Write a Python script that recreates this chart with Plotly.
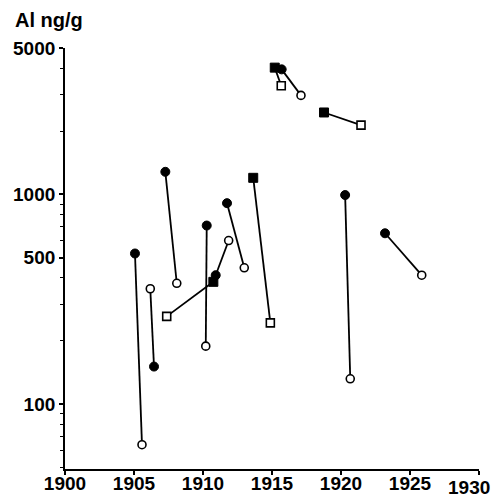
import plotly.graph_objects as go
import math

# Each pair: filled (start) marker -> open (end) marker
filled_x = [1905.07, 1906.45, 1907.27, 1910.75, 1910.27, 1910.92, 1911.74, 1913.64, 1915.2, 1915.7, 1918.77, 1920.3, 1923.19]
filled_y = [523, 151, 1283, 383, 711, 412, 909, 1201, 4030, 3954, 2462, 994, 653]
filled_sym = ["circle", "circle", "circle", "square", "circle", "circle", "circle", "square", "square", "circle", "square", "circle", "circle"]
open_x = [1905.58, 1906.18, 1908.1, 1907.37, 1910.2, 1911.86, 1912.99, 1914.88, 1915.67, 1917.1, 1921.45, 1920.67, 1925.85]
open_y = [64, 355, 377, 262, 189, 603, 447, 244, 3304, 2971, 2142, 132, 412]
open_sym = ["circle", "circle", "circle", "square", "circle", "circle", "circle", "square", "square", "circle", "square", "circle", "circle"]

x_ticks = [1900, 1905, 1910, 1915, 1920, 1925, 1930]
y_ticks = [100, 500, 1000, 5000]
y_ticktext = ["100", "500", "1000", "5000"]
y_minor = [50, 60, 70, 80, 90, 200, 300, 400, 600, 700, 800, 900, 2000, 3000, 4000]

FONT = "Liberation Sans"
FS = 19

fig = go.Figure()

# connecting lines
lx, ly = [], []
for a, b, c, d in zip(filled_x, filled_y, open_x, open_y):
    lx += [a, c, None]
    ly += [b, d, None]
fig.add_trace(go.Scatter(x=lx, y=ly, mode="lines", line=dict(color="black", width=1.8),
                         hoverinfo="skip", showlegend=False))

# open markers
fig.add_trace(go.Scatter(x=open_x, y=open_y, mode="markers",
                         marker=dict(symbol=open_sym, size=8, color="white",
                                     line=dict(color="black", width=1.6)),
                         showlegend=False))
# filled markers
fig.add_trace(go.Scatter(x=filled_x, y=filled_y, mode="markers",
                         marker=dict(symbol=filled_sym, size=9, color="black",
                                     line=dict(color="black", width=1)),
                         showlegend=False))

# last x tick label is drawn slightly left of its tick so it stays on the page
x_ticktext = ["<b>%d</b>" % v for v in x_ticks[:-1]] + [""]

fig.update_layout(
    width=495, height=491,
    margin=dict(l=57, r=24, t=40, b=30),
    paper_bgcolor="white", plot_bgcolor="white",
    font=dict(family=FONT, size=FS, color="black"),
    xaxis=dict(range=[1900, 1930], tickvals=x_ticks, ticktext=x_ticktext,
               showgrid=False, zeroline=False, automargin=False,
               showline=True, linecolor="black", linewidth=1.8,
               ticks="outside", ticklen=4, tickwidth=1.5, tickcolor="black",
               ticklabelstandoff=-8,
               tickfont=dict(family=FONT, size=FS)),
    yaxis=dict(type="log", range=[math.log10(49), math.log10(5000)],
               tickvals=y_ticks, ticktext=["<b>%s</b>" % t for t in y_ticktext],
               showgrid=False, zeroline=False, automargin=False,
               showline=True, linecolor="black", linewidth=1.8,
               ticks="outside", ticklen=4, tickwidth=1.5, tickcolor="black",
               tickfont=dict(family=FONT, size=FS),
               minor=dict(tickvals=y_minor, ticks="outside", ticklen=3,
                          tickwidth=1.2, tickcolor="black", showgrid=False)),
    annotations=[
        dict(text="<b>Al ng/g</b>", xref="paper", yref="paper",
             x=-0.126, y=1.066, xanchor="left", yanchor="middle",
             showarrow=False, font=dict(family=FONT, size=20)),
        dict(text="<b>%d</b>" % x_ticks[-1], xref="x", yref="paper",
             x=x_ticks[-1], xshift=-10, y=-0.045, xanchor="center", yanchor="middle",
             showarrow=False, font=dict(family=FONT, size=FS)),
    ],
)

fig.write_html("out.html")
